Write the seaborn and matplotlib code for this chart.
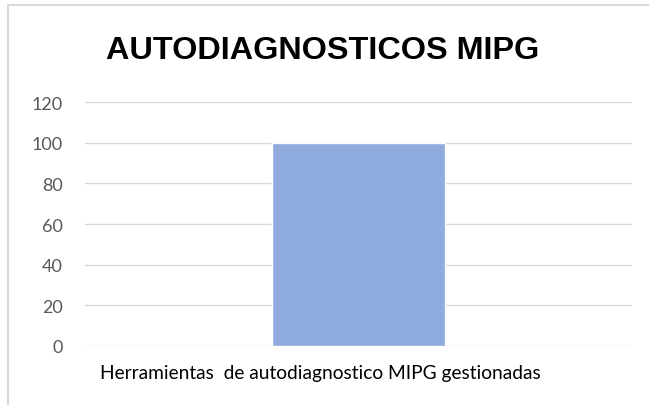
import matplotlib
matplotlib.use("Agg")
import matplotlib.pyplot as plt
import matplotlib.transforms as mtransforms
from matplotlib.patches import Rectangle
import seaborn as sns
import pandas as pd

categories = ["Herramientas  de autodiagnostico MIPG gestionadas"]
values = [100]
title = "AUTODIAGNOSTICOS MIPG"

sns.set_style("white")
plt.rcParams["font.family"] = ["Lato", "DejaVu Sans"]

df = pd.DataFrame({"cat": categories, "val": values})

fig = plt.figure(figsize=(6.49, 4.06), dpi=100)
ax = fig.add_axes([85 / 649, 1 - 347 / 406, 547 / 649, 244 / 406])

sns.barplot(data=df, x="cat", y="val", color="#8FAADC", saturation=1, width=0.315, ax=ax, zorder=3)

ax.set_ylim(0, 120)
ax.set_yticks(range(0, 121, 20))
ax.yaxis.grid(True, color="#D9D9D9", linewidth=1)
ax.set_axisbelow(True)
for s in ax.spines.values():
    s.set_visible(False)
ax.set_xlabel("")
ax.set_ylabel("")
ax.tick_params(axis="y", length=0, pad=16, labelsize=13, labelcolor="#595959")
ax.tick_params(axis="x", length=0, pad=13, labelsize=13.8, labelcolor="#000000")

# category label sits a bit left of the bar centre, as in the original
shift = mtransforms.ScaledTranslation(-38 / 100, 0, fig.dpi_scale_trans)
for lbl in ax.get_xticklabels():
    lbl.set_transform(lbl.get_transform() + shift)

fig.text(323 / 649, 1 - 51 / 406, title, ha="center", va="center", fontsize=23.3,
         fontweight="bold", color="black", family=["Liberation Sans", "DejaVu Sans"])

# outer chart border (only top and left visible in the crop)
fig.add_artist(Rectangle((8 / 649, -0.1), 1.2, 1.1 - 6 / 406, transform=fig.transFigure,
                         fill=False, edgecolor="#D9D9D9", linewidth=1.5))

fig.savefig("out.png", dpi=100)
